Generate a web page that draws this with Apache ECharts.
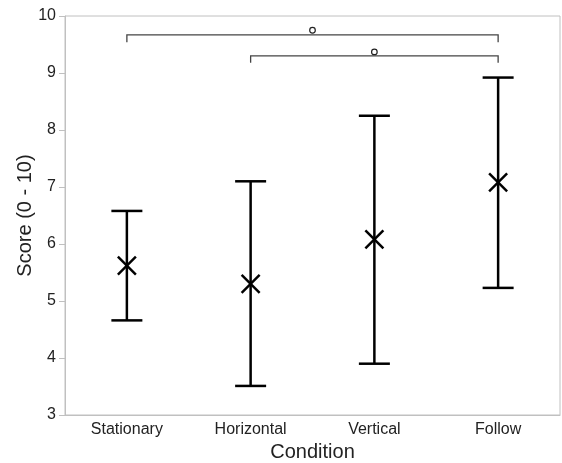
<!DOCTYPE html>
<html>
<head>
<meta charset="utf-8">
<script src="https://cdn.jsdelivr.net/npm/echarts@6/dist/echarts.min.js"></script>
<style>html,body{margin:0;padding:0;background:#fff}#c{width:562px;height:463px}</style>
</head>
<body>
<div id="c"></div>
<script>
const categories = ['Stationary', 'Horizontal', 'Vertical', 'Follow'];
const means = [5.62, 5.30, 6.08, 7.08];
const lower = [4.66, 3.51, 3.90, 5.23];
const upper = [6.58, 7.10, 8.25, 8.92];
const yTicks = [3, 4, 5, 6, 7, 8, 9, 10];
// significance brackets: from category, to category, bar level, tip level, marker level
const bracketFrom = [0, 1];
const bracketTo = [3, 3];
const bracketLevel = [9.67, 9.30];
const bracketTip = [9.54, 9.18];
const markerLevel = [9.75, 9.37];

const errData = categories.map((c, i) => [i, means[i], lower[i], upper[i]]);
const brData = bracketFrom.map((f, i) => [f, bracketTo[i], bracketLevel[i], bracketTip[i], markerLevel[i]]);

const chart = echarts.init(document.getElementById('c'), null, {renderer: 'canvas'});
const font = 'Liberation Sans, Arial, Helvetica, sans-serif';
chart.setOption({
  animation: false,
  grid: {left: 65, right: 2, top: 16, bottom: 48, show: true, borderColor: '#c0c0c0', borderWidth: 1,
         containLabel: false, outerBoundsMode: 'none'},
  xAxis: {
    type: 'category', data: categories, boundaryGap: true,
    name: 'Condition', nameLocation: 'middle', nameGap: 27, nameMoveOverlap: false,
    nameTextStyle: {fontFamily: font, fontSize: 20, color: '#222'},
    axisLine: {lineStyle: {color: '#c0c0c0', width: 1}},
    axisTick: {show: false},
    axisLabel: {fontFamily: font, fontSize: 16, color: '#222', margin: 7}
  },
  yAxis: {
    type: 'value', min: yTicks[0], max: yTicks[yTicks.length - 1], interval: 1,
    name: 'Score (0 - 10)', nameLocation: 'middle', nameGap: 30, nameMoveOverlap: false,
    nameTextStyle: {fontFamily: font, fontSize: 20, color: '#222'},
    axisLine: {show: true, lineStyle: {color: '#c0c0c0', width: 1}},
    axisTick: {show: true, length: 6, lineStyle: {color: '#c0c0c0'}},
    axisLabel: {fontFamily: font, fontSize: 16, color: '#222', margin: 9},
    splitLine: {show: false}
  },
  series: [
    {
      type: 'custom', data: errData, encode: {x: 0, y: [1, 2, 3]}, clip: false,
      renderItem: function (params, api) {
        const x = api.value(0);
        const m = api.coord([x, api.value(1)]);
        const lo = api.coord([x, api.value(2)]);
        const hi = api.coord([x, api.value(3)]);
        const cap = 15.5, s = 9;
        const st = {stroke: '#000', lineWidth: 2.5, fill: null};
        return {type: 'group', children: [
          {type: 'line', shape: {x1: lo[0], y1: lo[1], x2: hi[0], y2: hi[1]}, style: st},
          {type: 'line', shape: {x1: lo[0] - cap, y1: lo[1], x2: lo[0] + cap, y2: lo[1]}, style: st},
          {type: 'line', shape: {x1: hi[0] - cap, y1: hi[1], x2: hi[0] + cap, y2: hi[1]}, style: st},
          {type: 'line', shape: {x1: m[0] - s, y1: m[1] - s, x2: m[0] + s, y2: m[1] + s}, style: st},
          {type: 'line', shape: {x1: m[0] - s, y1: m[1] + s, x2: m[0] + s, y2: m[1] - s}, style: st}
        ]};
      }
    },
    {
      type: 'custom', data: brData, encode: {x: [0, 1], y: [2, 3, 4]}, clip: false,
      renderItem: function (params, api) {
        const a = api.coord([api.value(0), api.value(2)]);
        const b = api.coord([api.value(1), api.value(2)]);
        const t = api.coord([api.value(0), api.value(3)]);
        const mk = api.coord([api.value(0), api.value(4)]);
        const mx = (a[0] + b[0]) / 2;
        const st = {stroke: '#444', lineWidth: 1.3, fill: null};
        return {type: 'group', children: [
          {type: 'polyline', shape: {points: [[a[0], t[1]], [a[0], a[1]], [b[0], b[1]], [b[0], t[1]]]}, style: st},
          {type: 'circle', shape: {cx: mx, cy: mk[1], r: 2.8}, style: {stroke: '#222', lineWidth: 1.2, fill: '#fff'}}
        ]};
      }
    }
  ]
});
</script>
</body>
</html>
